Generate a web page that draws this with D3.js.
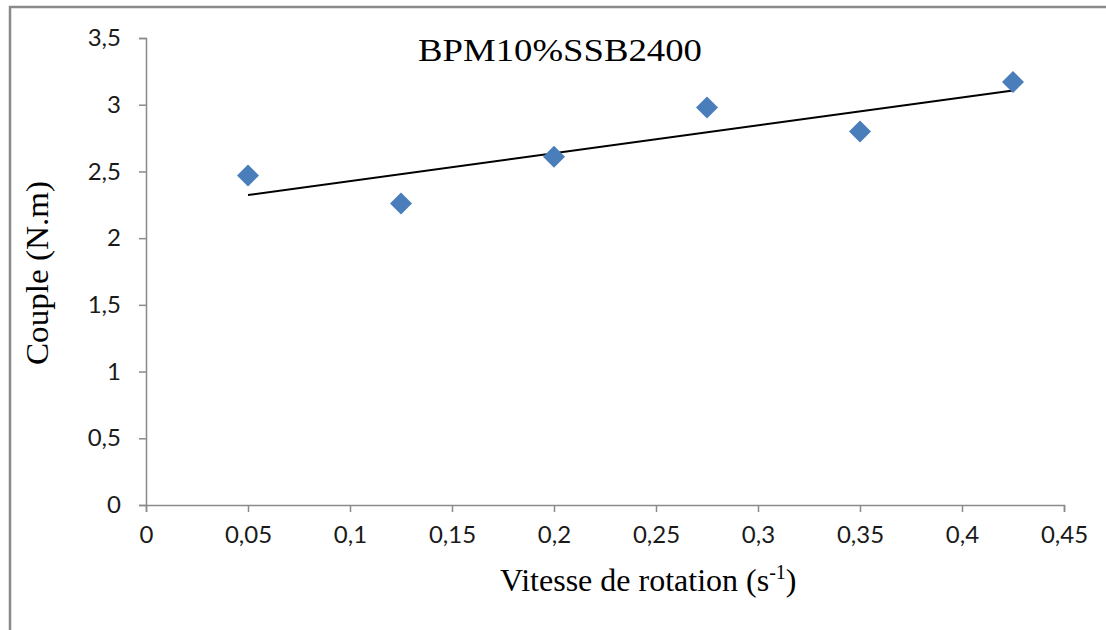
<!DOCTYPE html>
<html>
	<head>
		<meta charset="utf-8">
		<script src="https://d3js.org/d3.v7.min.js"></script>
		<style>
			body { margin: 0; background: #ffffff; }
		</style>
	</head>
	<body>
		<div id="wrapper"></div>
		<script>
			/* Data */
			var chartTitle = "BPM10%SSB2400";
			var vitesse = [0.05, 0.125, 0.2, 0.275, 0.35, 0.425];
			var couple = [2.47, 2.26, 2.61, 2.98, 2.80, 3.17];
			var xTicks = [0, 0.05, 0.1, 0.15, 0.2, 0.25, 0.3, 0.35, 0.4, 0.45];
			var yTicks = [0, 0.5, 1, 1.5, 2, 2.5, 3, 3.5];

			var width = 1106, height = 630;
			var margin = {top: 38, right: 42, bottom: 125, left: 146};

			var svg = d3.select("#wrapper").append("svg")
				.attr("width", width)
				.attr("height", height);

			/* Chart frame (only top and left edges visible) */
			svg.append("path")
				.attr("d", "M10,630 L10,7 L1106,7")
				.attr("fill", "none")
				.attr("stroke", "#8a8a8a")
				.attr("stroke-width", 2.5);

			var x = d3.scaleLinear().domain([0, 0.45]).range([margin.left, width - margin.right]);
			var y = d3.scaleLinear().domain([0, 3.5]).range([height - margin.bottom, margin.top]);

			var fmt = function(d){ return String(d).replace(".", ","); };

			/* Axes */
			var xAxis = svg.append("g")
				.attr("transform", "translate(0," + y(0) + ")")
				.call(d3.axisBottom(x).tickValues(xTicks).tickFormat(fmt).tickSize(7).tickPadding(14));
			var yAxis = svg.append("g")
				.attr("transform", "translate(" + x(0) + ",0)")
				.call(d3.axisLeft(y).tickValues(yTicks).tickFormat(fmt).tickSize(7).tickPadding(18));

			[xAxis, yAxis].forEach(function(g){
				g.select(".domain").attr("stroke", "#8a8a8a").attr("stroke-width", 1.5);
				g.selectAll(".tick line").attr("stroke", "#8a8a8a").attr("stroke-width", 1.5);
				g.selectAll(".tick text")
					.attr("fill", "#1a1a1a")
					.style("font-family", "Lato, 'Open Sans', sans-serif")
					.style("font-size", "24px");
			});

			/* Linear trendline (least squares) */
			var mx = d3.mean(vitesse), my = d3.mean(couple);
			var sxy = d3.sum(vitesse, function(v, i){ return (v - mx) * (couple[i] - my); });
			var sxx = d3.sum(vitesse, function(v){ return (v - mx) * (v - mx); });
			var slope = sxy / sxx, inter = my - slope * mx;
			var xr = d3.extent(vitesse);
			svg.append("line")
				.attr("x1", x(xr[0])).attr("y1", y(inter + slope * xr[0]))
				.attr("x2", x(xr[1])).attr("y2", y(inter + slope * xr[1]))
				.attr("stroke", "#000000")
				.attr("stroke-width", 2);

			/* Diamond markers */
			svg.selectAll("path.pt")
				.data(vitesse)
				.enter()
				.append("path")
				.attr("class", "pt")
				.attr("d", "M0,-11 L11,0 L0,11 L-11,0 Z")
				.attr("transform", function(d, i){ return "translate(" + x(d) + "," + y(couple[i]) + ")"; })
				.attr("fill", "#4a7ebb");

			/* Titles */
			var serif = "'Liberation Serif', 'Times New Roman', serif";
			svg.append("text")
				.attr("x", 560).attr("y", 61)
				.attr("text-anchor", "middle")
				.attr("textLength", 284)
				.attr("lengthAdjust", "spacingAndGlyphs")
				.style("font-family", serif).style("font-size", "31px")
				.text(chartTitle);

			var xt = svg.append("text")
				.attr("x", 500).attr("y", 591)
				.style("font-family", serif).style("font-size", "32px");
			xt.append("tspan").text("Vitesse de rotation (s");
			xt.append("tspan").attr("dy", -12).style("font-size", "20px").text("-1");
			xt.append("tspan").attr("dy", 12).text(")");

			svg.append("text")
				.attr("transform", "translate(48,273) rotate(-90)")
				.attr("text-anchor", "middle")
				.attr("textLength", 184)
				.attr("lengthAdjust", "spacingAndGlyphs")
				.style("font-family", serif).style("font-size", "32px")
				.text("Couple (N.m)");
		</script>
	</body>
</html>
